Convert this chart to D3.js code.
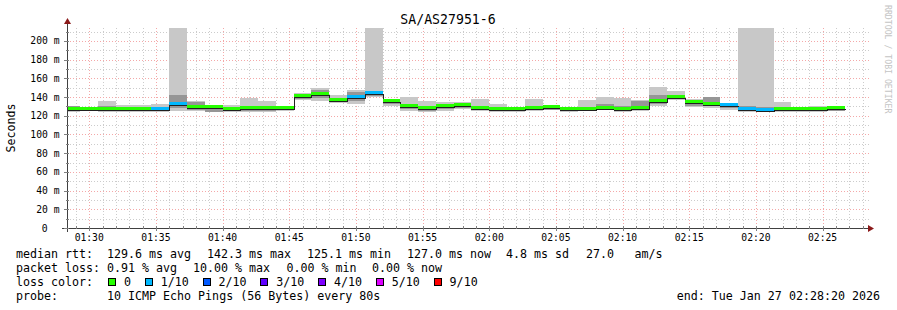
<!DOCTYPE html>
<meta charset="utf-8">
<body style="margin:0;background:#ffffff;">
<script src="https://d3js.org/d3.v7.min.js"></script>
<div id="chart"></div>
<script>

// Per-step values (80s steps), in ms
var rttMedian = [125.8, 126.0, 126.6, 125.7, 126.0, 126.2, 131.5, 128.3, 128.7, 126.6,
                 127.0, 126.8, 127.6, 140.5, 142.3, 136.2, 139.0, 143.0, 134.8, 129.8,
                 127.3, 129.4, 130.8, 127.3, 126.2, 126.5, 127.6, 128.0, 125.9, 126.2,
                 127.6, 125.9, 127.0, 134.8, 138.8, 133.3, 131.7, 130.7, 125.8, 125.3,
                 126.0, 126.2, 126.6, 127.0];
var smokeMin  = [124.2, 124.8, 124.0, 124.5, 124.5, 124.0, 125.1, 125.0, 124.0, 124.0,
                 124.0, 124.2, 125.0, 136.5, 135.5, 134.0, 132.6, 140.4, 130.8, 125.5,
                 124.4, 125.0, 127.0, 125.5, 124.4, 124.5, 124.8, 125.9, 124.5, 125.5,
                 125.9, 124.5, 125.0, 130.5, 136.5, 129.4, 128.3, 126.5, 124.0, 124.0,
                 124.5, 124.5, 124.5, 125.0];
var smokeLo   = [125.0, 125.3, 125.5, 125.0, 125.2, 125.0, 128.0, 126.5, 124.5, 125.0,
                 125.5, 125.3, 126.0, 138.0, 139.5, 135.0, 136.0, 141.5, 133.0, 127.5,
                 125.5, 127.0, 128.0, 126.0, 125.0, 125.5, 126.0, 126.5, 125.0, 125.8,
                 126.5, 125.0, 126.0, 133.0, 137.5, 131.0, 130.0, 128.0, 125.0, 124.5,
                 125.0, 125.0, 125.5, 125.5];
var smokeHi   = [130.0, 127.0, 131.0, 127.5, 129.0, 129.5, 142.5, 135.0, 129.5, 128.0,
                 129.5, 128.5, 129.5, 143.0, 148.0, 138.0, 145.5, 145.0, 136.0, 132.0,
                 129.0, 132.5, 134.0, 129.0, 127.5, 127.5, 129.5, 129.5, 127.0, 128.5,
                 133.0, 131.0, 135.5, 142.7, 142.0, 135.0, 140.0, 133.0, 130.0, 129.0,
                 127.0, 128.5, 128.5, 128.5];
var smokeMax  = [130.8, 128.0, 135.8, 132.0, 131.5, 133.0, 260.0, 135.5, 130.5, 131.5,
                 139.4, 136.0, 130.0, 144.4, 149.7, 141.9, 147.6, 260.0, 138.0, 139.8,
                 136.2, 134.8, 134.8, 138.0, 132.6, 128.5, 137.6, 131.9, 127.8, 136.9,
                 140.1, 139.0, 136.5, 150.5, 146.2, 138.3, 140.1, 134.0, 260.0, 260.0,
                 134.8, 129.4, 130.0, 129.0];
// lost pings out of 10 per step
var lossCount = [0, 0, 0, 0, 0, 1, 1, 0, 0, 0,
                 0, 0, 0, 0, 0, 0, 1, 1, 0, 0,
                 0, 0, 0, 0, 0, 0, 0, 0, 0, 0,
                 0, 0, 0, 0, 0, 0, 0, 1, 1, 1,
                 0, 0, 0, 0];

var lossLevels = [0, 1, 2, 3, 4, 5, 9];
var lossLabels = ["0", "1/10", "2/10", "3/10", "4/10", "5/10", "9/10"];
var lossColors = ["#26ff00", "#00b8ff", "#0059ff", "#5e00ff", "#7e00ff", "#dd00ff", "#ff0000"];

var yTicks = [0, 20, 40, 60, 80, 100, 120, 140, 160, 180, 200];

// legend items, each line split in the pieces rrdtool prints
var rttItems  = ["129.6 ms avg", "142.3 ms max", "125.1 ms min", "127.0 ms now", "4.8 ms sd", "27.0", "am/s"];
var rttItemX  = [107, 207, 307, 407, 506, 586, 634.5];
var lossItems = ["0.91 % avg", "10.00 % max", "0.00 % min", "0.00 % now"];
var lossItemX = [107, 193, 286.5, 372];
var probeText = "10 ICMP Echo Pings (56 Bytes) every 80s";
var endText = "end: Tue Jan 27 02:28:20 2026";

var startTime = new Date(Date.UTC(2026, 0, 27, 1, 28, 20));
var endTime = new Date(Date.UTC(2026, 0, 27, 2, 28, 20));
var firstStepEnd = new Date(Date.UTC(2026, 0, 27, 1, 29, 20));
var stepSec = 80;

var mono = "'DejaVu Sans Mono', monospace";
var width = 897, height = 310;
var plot = {left: 67, right: 867, top: 28, bottom: 228};

var svg = d3.select("#chart").append("svg")
    .attr("width", width)
    .attr("height", height)
    .style("display", "block")
    .style("font-family", mono);

svg.append("rect").attr("width", width).attr("height", height).attr("fill", "#ffffff");

var x = d3.scaleUtc().domain([startTime, endTime]).range([plot.left, plot.right]);
var y = d3.scaleLinear().domain([0, 213.9]).range([plot.bottom, plot.top]);

function stepEnd(i) { return new Date(firstStepEnd.getTime() + i * stepSec * 1000); }
function stepStart(i) {
  var t = new Date(stepEnd(i).getTime() - stepSec * 1000);
  return t < startTime ? startTime : t;
}

svg.append("defs").append("clipPath").attr("id", "clip")
  .append("rect")
    .attr("x", plot.left).attr("y", plot.top)
    .attr("width", plot.right - plot.left).attr("height", plot.bottom - plot.top);

// grid: minor
var grid = svg.append("g").attr("shape-rendering", "crispEdges");
var minorX = d3.utcMinute.every(1).range(startTime, endTime);
grid.selectAll(".gx").data(minorX.filter(function(d){ return d.getUTCMinutes() % 5 != 0; }))
  .enter().append("line")
    .attr("x1", function(d){ return Math.round(x(d)) + 0.5; })
    .attr("x2", function(d){ return Math.round(x(d)) + 0.5; })
    .attr("y1", plot.top).attr("y2", plot.bottom)
    .attr("stroke", "#cccccc").attr("stroke-dasharray", "1,2");
var minorY = d3.range(10, 214, 20);
grid.selectAll(".gy").data(minorY).enter().append("line")
    .attr("x1", plot.left).attr("x2", plot.right + 2)
    .attr("y1", function(d){ return Math.round(y(d)) + 0.5; })
    .attr("y2", function(d){ return Math.round(y(d)) + 0.5; })
    .attr("stroke", "#cccccc").attr("stroke-dasharray", "1,2");
// grid: major
var majorX = d3.utcMinute.every(5).range(startTime, endTime);
grid.selectAll(".mx").data(majorX).enter().append("line")
    .attr("x1", function(d){ return Math.round(x(d)) + 0.5; })
    .attr("x2", function(d){ return Math.round(x(d)) + 0.5; })
    .attr("y1", plot.top).attr("y2", plot.bottom)
    .attr("stroke", "#f4a8a8").attr("stroke-dasharray", "1,2");
grid.selectAll(".my").data(yTicks.slice(1)).enter().append("line")
    .attr("x1", plot.left - 3).attr("x2", plot.right + 2)
    .attr("y1", function(d){ return Math.round(y(d)) + 0.5; })
    .attr("y2", function(d){ return Math.round(y(d)) + 0.5; })
    .attr("stroke", "#f4a8a8").attr("stroke-dasharray", "1,2");

// smoke
var steps = d3.range(rttMedian.length);
var data = svg.append("g").attr("clip-path", "url(#clip)").attr("shape-rendering", "crispEdges");
data.selectAll(".smoke").data(steps).enter().append("rect")
    .attr("x", function(i){ return x(stepStart(i)); })
    .attr("width", function(i){ return x(stepEnd(i)) - x(stepStart(i)); })
    .attr("y", function(i){ return y(smokeMax[i]); })
    .attr("height", function(i){ return y(smokeMin[i]) - y(smokeMax[i]); })
    .attr("fill", "#c8c8c8");
data.selectAll(".smoke2").data(steps).enter().append("rect")
    .attr("x", function(i){ return x(stepStart(i)); })
    .attr("width", function(i){ return x(stepEnd(i)) - x(stepStart(i)); })
    .attr("y", function(i){ return y(smokeHi[i]); })
    .attr("height", function(i){ return y(smokeLo[i]) - y(smokeHi[i]); })
    .attr("fill", "#969696");

// median line (black) then loss coloured band
var pts = steps.map(function(i){ return [stepStart(i), rttMedian[i]]; });
pts.push([stepEnd(steps.length - 1), rttMedian[steps.length - 1]]);
data.append("path")
    .datum(pts)
    .attr("fill", "none")
    .attr("stroke", "#202020")
    .attr("stroke-width", 1)
    .attr("d", d3.line()
      .x(function(d){ return Math.round(x(d[0])) + 0.5; })
      .y(function(d){ return Math.round(y(d[1])) + 0.5; })
      .curve(d3.curveStepAfter));

function lossColor(n) {
  var k = 0;
  lossLevels.forEach(function(l, j){ if (n >= l) k = j; });
  return lossColors[k];
}
data.selectAll(".band").data(steps).enter().append("rect")
    .attr("x", function(i){ return x(stepStart(i)); })
    .attr("width", function(i){ return x(stepEnd(i)) - x(stepStart(i)); })
    .attr("y", function(i){ return Math.round(y(rttMedian[i])) - 3; })
    .attr("height", 3)
    .attr("fill", function(i){ return lossColor(lossCount[i]); });

// axes
var axes = svg.append("g").attr("shape-rendering", "crispEdges");
axes.append("line")
    .attr("x1", plot.left - 5).attr("x2", plot.right + 2)
    .attr("y1", plot.bottom + 0.5).attr("y2", plot.bottom + 0.5)
    .attr("stroke", "#404040");
axes.append("line")
    .attr("x1", plot.left + 0.5).attr("x2", plot.left + 0.5)
    .attr("y1", plot.bottom + 4).attr("y2", plot.top - 4)
    .attr("stroke", "#404040");
axes.selectAll(".tx").data(minorX).enter().append("line")
    .attr("x1", function(d){ return Math.round(x(d)) + 0.5; })
    .attr("x2", function(d){ return Math.round(x(d)) + 0.5; })
    .attr("y1", plot.bottom - 2)
    .attr("y2", function(d){ return d.getUTCMinutes() % 5 == 0 ? plot.bottom + 3 : plot.bottom + 1; })
    .attr("stroke", "#808080");
axes.selectAll(".ty").data(d3.range(0, 214, 10)).enter().append("line")
    .attr("x1", function(d){ return d % 20 == 0 ? plot.left - 3 : plot.left - 1; })
    .attr("x2", plot.left + 2)
    .attr("y1", function(d){ return Math.round(y(d)) + 0.5; })
    .attr("y2", function(d){ return Math.round(y(d)) + 0.5; })
    .attr("stroke", "#808080");
svg.append("path")
    .attr("d", "M" + (plot.right + 1) + "," + (plot.bottom - 3) + "L" + (plot.right + 7) + "," + (plot.bottom + 0.5) +
               "L" + (plot.right + 1) + "," + (plot.bottom + 4) + "Z")
    .attr("fill", "#8b1a1a");
svg.append("path")
    .attr("d", "M" + (plot.left - 3) + "," + (plot.top - 4) + "L" + (plot.left + 0.5) + "," + (plot.top - 10) +
               "L" + (plot.left + 4) + "," + (plot.top - 4) + "Z")
    .attr("fill", "#8b1a1a");

// tick labels
svg.selectAll(".yl").data(yTicks).enter().append("text")
    .attr("x", function(d){ return d == 0 ? 47.5 : 59.5; })
    .attr("y", function(d){ return y(d) + 3.5; })
    .attr("text-anchor", "end")
    .attr("font-size", "9.7px")
    .attr("fill", "#000")
    .text(function(d){ return d == 0 ? "0" : d + " m"; });
svg.selectAll(".xl").data(majorX).enter().append("text")
    .attr("x", function(d){ return x(d); })
    .attr("y", 241)
    .attr("text-anchor", "middle")
    .attr("font-size", "9.7px")
    .attr("fill", "#000")
    .text(d3.utcFormat("%H:%M"));

// title, axis label, watermark
svg.append("text")
    .attr("x", 448).attr("y", 24)
    .attr("text-anchor", "middle")
    .attr("font-size", "13.2px")
    .text("SA/AS27951-6");
svg.append("text")
    .attr("transform", "translate(15," + ((plot.top + plot.bottom) / 2) + ") rotate(-90)")
    .attr("text-anchor", "middle")
    .attr("font-size", "11.6px")
    .text("Seconds");
svg.append("text")
    .attr("transform", "translate(884.5,5) rotate(90)")
    .attr("font-size", "8.2px")
    .attr("fill", "#c4c4c4")
    .text("RRDTOOL / TOBI OETIKER");

// legend
var legend = svg.append("g").attr("font-size", "11.65px");
legend.append("text").attr("x", 16).attr("y", 258).text("median rtt:");
legend.selectAll(".ri").data(rttItems).enter().append("text")
    .attr("x", function(d, i){ return rttItemX[i]; })
    .attr("y", 258)
    .text(function(d){ return d; });
legend.append("text").attr("x", 16).attr("y", 272).text("packet loss:");
legend.selectAll(".li").data(lossItems).enter().append("text")
    .attr("x", function(d, i){ return lossItemX[i]; })
    .attr("y", 272)
    .text(function(d){ return d; });
legend.append("text").attr("x", 16).attr("y", 286).text("loss color:");
var lx = 108;
lossLabels.forEach(function(lab, i){
  legend.append("rect")
    .attr("x", lx + 0.5).attr("y", 278.5).attr("width", 7).attr("height", 7)
    .attr("fill", lossColors[i]).attr("stroke", "#000").attr("stroke-width", 1)
    .attr("shape-rendering", "crispEdges");
  legend.append("text").attr("x", lx + 16).attr("y", 286).text(lab);
  lx = lx + 16 + lab.length * 7.02 + 13.7;
});
legend.append("text").attr("x", 16).attr("y", 300).text("probe:");
legend.append("text").attr("x", 107).attr("y", 300).text(probeText);
legend.append("text").attr("x", 880).attr("y", 300).attr("text-anchor", "end").text(endText);

</script>
</body>
